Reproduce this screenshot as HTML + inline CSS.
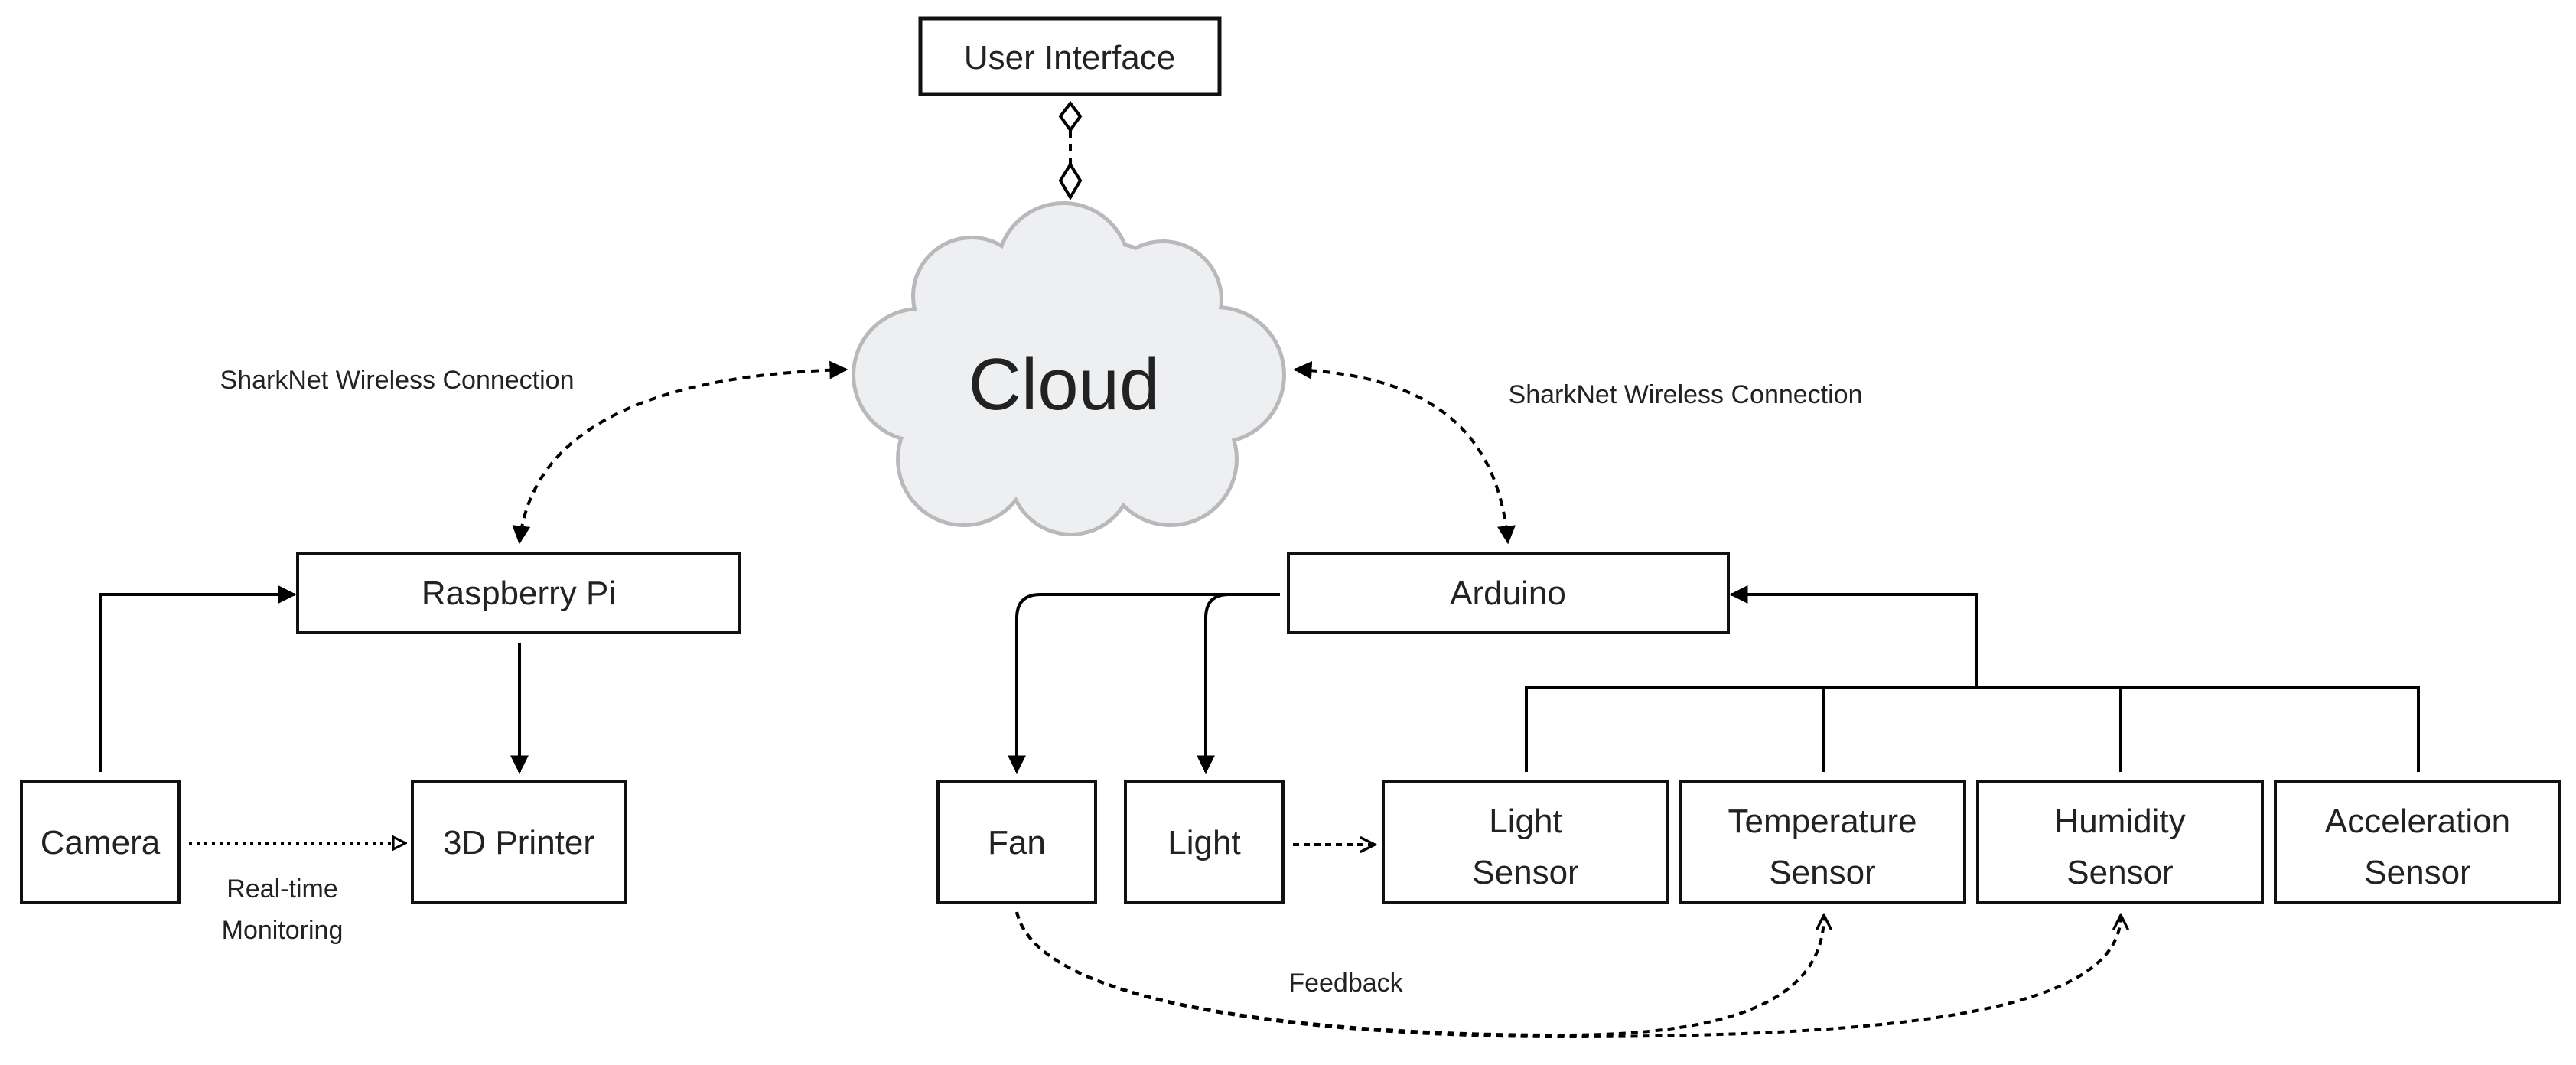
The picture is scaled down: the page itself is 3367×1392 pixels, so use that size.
<!DOCTYPE html>
<html><head><meta charset="utf-8"><style>
html,body{margin:0;padding:0;background:#fff;}
svg{display:block;}
text{font-family:"Liberation Sans",sans-serif;fill:#222;}
</style></head><body>
<svg width="3367" height="1392" viewBox="0 0 3367 1392" xmlns="http://www.w3.org/2000/svg">
<defs>
<marker id="af" viewBox="0 0 10 10" refX="9" refY="5" markerWidth="6" markerHeight="6" markerUnits="strokeWidth" orient="auto-start-reverse"><path d="M0,0 L10,5 L0,10 z" fill="#000"/></marker>
<marker id="ao" viewBox="0 0 10 10" refX="9" refY="5" markerWidth="5" markerHeight="5" markerUnits="strokeWidth" orient="auto"><path d="M1,1 L9,5 L1,9 z" fill="#fff" stroke="#000" stroke-width="1.6"/></marker>
<marker id="av" viewBox="0 0 10 10" refX="9" refY="5" markerWidth="6" markerHeight="6" markerUnits="strokeWidth" orient="auto"><path d="M1,1 L9,5 L1,9" fill="none" stroke="#000" stroke-width="1.4"/></marker>
</defs>

<rect x="1203" y="24" width="391" height="99" fill="#fff" stroke="#111" stroke-width="5"/>
<text x="1398" y="90" font-size="44" text-anchor="middle">User Interface</text>
<line x1="1399" y1="170" x2="1399" y2="215" stroke="#000" stroke-width="4" stroke-dasharray="10 8"/>
<path d="M1399,135 L1412,152 L1399,170 L1386,152 Z" fill="#fff" stroke="#000" stroke-width="4"/>
<path d="M1399,215 L1412,236 L1399,258 L1386,236 Z" fill="#fff" stroke="#000" stroke-width="4"/>

<g fill="#b9b9bb" stroke="#b9b9bb" stroke-width="10">
<ellipse cx="1398" cy="483" rx="220" ry="170"/>
<circle cx="1390" cy="352" r="84"/><circle cx="1270" cy="387" r="74"/><circle cx="1520" cy="392" r="74"/>
<circle cx="1202" cy="490" r="84"/><circle cx="1590" cy="490" r="86"/>
<circle cx="1260" cy="600" r="84"/><circle cx="1400" cy="618" r="78"/><circle cx="1530" cy="600" r="84"/>
</g>
<g fill="#eeeff1">
<ellipse cx="1398" cy="483" rx="220" ry="170"/>
<circle cx="1390" cy="352" r="84"/><circle cx="1270" cy="387" r="74"/><circle cx="1520" cy="392" r="74"/>
<circle cx="1202" cy="490" r="84"/><circle cx="1590" cy="490" r="86"/>
<circle cx="1260" cy="600" r="84"/><circle cx="1400" cy="618" r="78"/><circle cx="1530" cy="600" r="84"/>
</g>
<text x="1391" y="535" font-size="96" text-anchor="middle" fill="#2a2a2a">Cloud</text>

<text x="519" y="508" font-size="34" text-anchor="middle">SharkNet Wireless Connection</text>
<text x="2203" y="527" font-size="34" text-anchor="middle">SharkNet Wireless Connection</text>
<path d="M1106,483 C850,490 695,560 679,709" fill="none" stroke="#000" stroke-width="4" stroke-dasharray="10 8" marker-start="url(#af)" marker-end="url(#af)"/>
<path d="M1693,483 C1900,492 1960,590 1971,709" fill="none" stroke="#000" stroke-width="4" stroke-dasharray="10 8" marker-start="url(#af)" marker-end="url(#af)"/>

<rect x="389" y="724" width="577" height="103" fill="#fff" stroke="#111" stroke-width="4"/>
<text x="678" y="790" font-size="44" text-anchor="middle">Raspberry Pi</text>
<rect x="28" y="1022" width="206" height="157" fill="#fff" stroke="#111" stroke-width="4"/>
<text x="131" y="1116" font-size="44" text-anchor="middle">Camera</text>
<rect x="539" y="1022" width="279" height="157" fill="#fff" stroke="#111" stroke-width="4"/>
<text x="678" y="1116" font-size="44" text-anchor="middle">3D Printer</text>
<path d="M131,1009 L131,777 L385,777" fill="none" stroke="#000" stroke-width="4" marker-end="url(#af)"/>
<line x1="679" y1="840" x2="679" y2="1009" stroke="#000" stroke-width="4" marker-end="url(#af)"/>
<line x1="247" y1="1102" x2="530" y2="1102" stroke="#000" stroke-width="4" stroke-dasharray="4 6" marker-end="url(#ao)"/>
<text x="369" y="1173" font-size="34" text-anchor="middle">Real-time</text>
<text x="369" y="1227" font-size="34" text-anchor="middle">Monitoring</text>

<rect x="1684" y="724" width="575" height="103" fill="#fff" stroke="#111" stroke-width="4"/>
<text x="1971" y="790" font-size="44" text-anchor="middle">Arduino</text>
<path d="M1673,777 L1360,777 Q1329,777 1329,808 L1329,1009" fill="none" stroke="#000" stroke-width="4" marker-end="url(#af)"/>
<path d="M1673,777 L1606,777 Q1576,777 1576,808 L1576,1009" fill="none" stroke="#000" stroke-width="4" marker-end="url(#af)"/>

<g fill="#fff" stroke="#111" stroke-width="4">
<rect x="1226" y="1022" width="206" height="157"/>
<rect x="1471" y="1022" width="206" height="157"/>
<rect x="1808" y="1022" width="372" height="157"/>
<rect x="2197" y="1022" width="371" height="157"/>
<rect x="2585" y="1022" width="372" height="157"/>
<rect x="2974" y="1022" width="372" height="157"/>
</g>
<g font-size="44" text-anchor="middle">
<text x="1329" y="1116">Fan</text>
<text x="1574" y="1116">Light</text>
<text x="1994" y="1088">Light</text><text x="1994" y="1155">Sensor</text>
<text x="2382" y="1088">Temperature</text><text x="2382" y="1155">Sensor</text>
<text x="2771" y="1088">Humidity</text><text x="2771" y="1155">Sensor</text>
<text x="3160" y="1088">Acceleration</text><text x="3160" y="1155">Sensor</text>
</g>
<line x1="1690" y1="1104" x2="1797" y2="1104" stroke="#000" stroke-width="4" stroke-dasharray="8 6" marker-end="url(#av)"/>

<g fill="none" stroke="#000" stroke-width="4">
<path d="M1995,1009 L1995,898 L3161,898 L3161,1009"/>
<line x1="2384" y1="898" x2="2384" y2="1009"/>
<line x1="2772" y1="898" x2="2772" y2="1009"/>
</g>
<path d="M2583,898 L2583,777 L2263,777" fill="none" stroke="#000" stroke-width="4" marker-end="url(#af)"/>

<path d="M1329,1192 C1360,1330 1800,1353 2040,1353 C2280,1353 2384,1300 2384,1196" fill="none" stroke="#000" stroke-width="4" stroke-dasharray="9 7" marker-end="url(#av)"/>
<path d="M1329,1192 C1360,1330 1800,1355 2040,1355 C2500,1355 2772,1320 2772,1196" fill="none" stroke="#000" stroke-width="4" stroke-dasharray="9 7" marker-end="url(#av)"/>
<text x="1759" y="1296" font-size="34" text-anchor="middle">Feedback</text>
</svg>
</body></html>
